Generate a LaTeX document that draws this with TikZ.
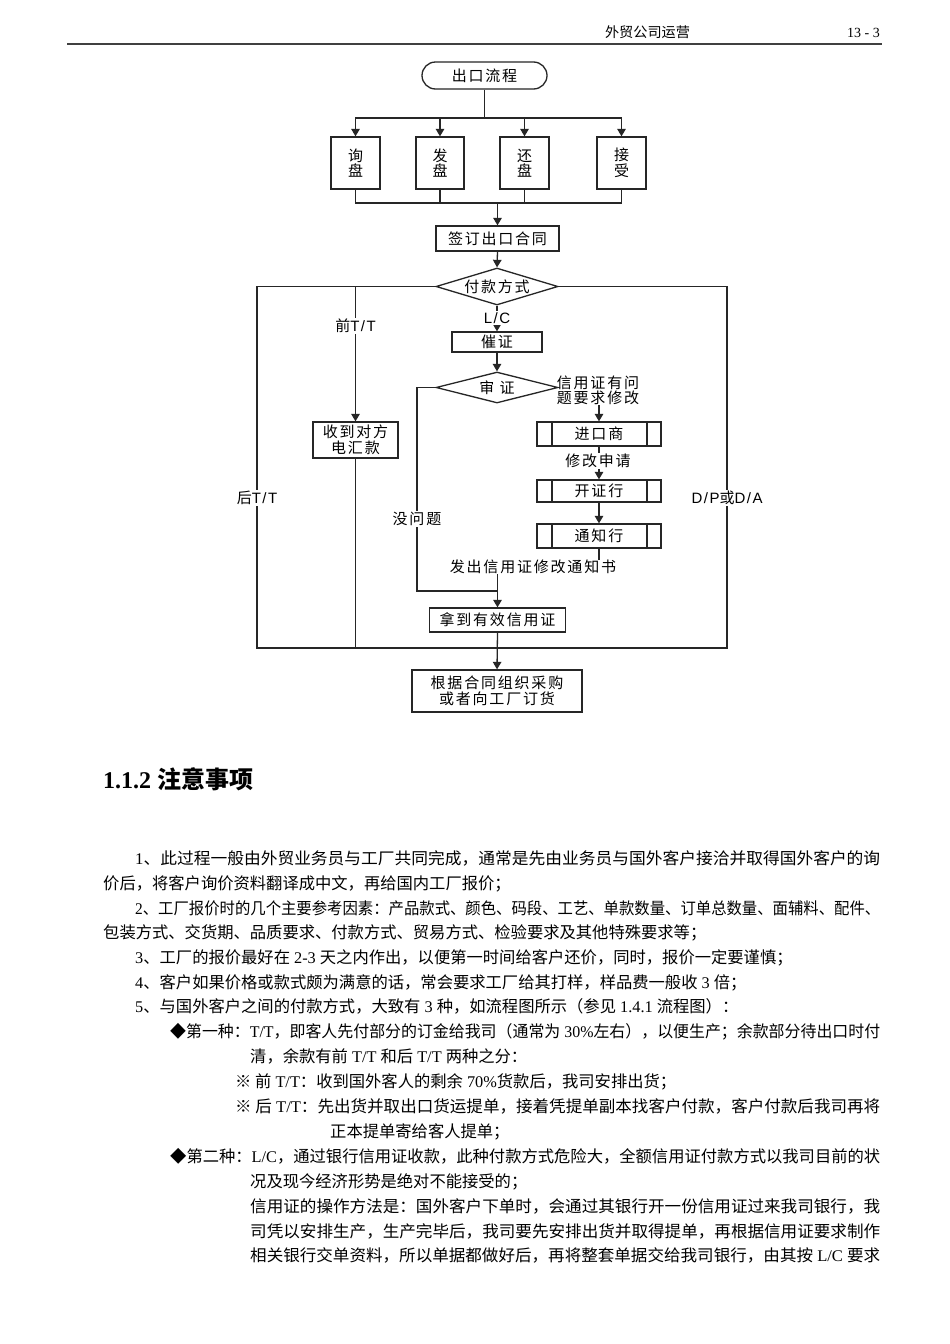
\documentclass[tikz,border=0pt]{standalone}
\usepackage{fontspec}
\usepackage{graphicx}
\setmainfont{Noto Sans CJK SC}
\newfontfamily\serifl{Liberation Serif}
\newfontfamily\sansl[LetterSpace=10]{Liberation Sans}
\newfontfamily\flowfont[LetterSpace=12]{Noto Sans CJK SC}
\usetikzlibrary{arrows.meta,shapes.geometric,shapes.misc}
\newcommand\trn[1]{{\serifl #1}}
\newcommand\arn[1]{{\sansl #1}}
\newcommand\jline[2]{\resizebox{#1}{\height}{#2}}
\tikzset{
  ln/.style={line width=1.3pt, draw=black!85},
  arr/.style={-{Triangle[length=7.5pt,width=8.5pt]}},
  ftx/.style={inner sep=0pt, font=\flowfont\fontsize{15}{15.5}\selectfont, align=center},
  box/.style={ftx, draw=black!85, line width=1.3pt},
  term/.style={box, rounded rectangle},
  dia/.style={draw=black!85, line width=1.3pt, diamond, inner sep=0pt, minimum width=122pt},
  lbl/.style={ftx, fill=white, inner sep=1.5pt},
  pp/.style={path picture={
     \draw[line width=1.3pt, draw=black!85] ([xshift=15pt]path picture bounding box.north west) -- ([xshift=15pt]path picture bounding box.south west);
     \draw[line width=1.3pt, draw=black!85] ([xshift=-14pt]path picture bounding box.north east) -- ([xshift=-14pt]path picture bounding box.south east);}},
  body/.style={anchor=base west, inner sep=0pt, font=\fontsize{16.3}{20}\selectfont},
}
\begin{document}
\begin{tikzpicture}[x=1pt,y=-1pt]
\fill[white] (0,0) rectangle (950,1344);
\useasboundingbox (0,0) rectangle (950,1344);

% header
\node[anchor=base, inner sep=0pt, font=\fontsize{14}{16}\selectfont] (hdr) at (647.5,37) {\resizebox{85pt}{\height}{外贸公司运营}};
\node[anchor=base east, inner sep=0pt, font=\serifl\fontsize{14}{16}\selectfont] (pg) at (880,37) {13 - 3};
\coordinate (ruleL) at (67,43.5);
\coordinate (ruleR) at (882,43.5);
\draw[line width=2pt, black!75] (ruleL) -- (ruleR);

% flowchart nodes
\node[term, minimum width=125pt, minimum height=27pt] (start) at (484.5,75.5) {出口流程};
\node[box, minimum width=49pt, minimum height=52pt] (q1) at (355.5,163) {询\\盘};
\node[box, minimum width=48pt, minimum height=52pt] (q2) at (440,163) {发\\盘};
\node[box, minimum width=49pt, minimum height=52pt] (q3) at (524.5,163) {还\\盘};
\node[box, minimum width=49pt, minimum height=52pt] (q4) at (621.5,163) {接\\受};
\node[box, minimum width=123pt, minimum height=25pt] (sign) at (497.5,238.5) {签订出口合同};
\node[dia, minimum height=37pt] (pay) at (497,286.5) {};
\node[ftx] (payt) at (pay) {付款方式};
\node[box, minimum width=85pt, minimum height=36pt] (sd) at (355.5,440) {收到对方\\电汇款};
\node[box, minimum width=90pt, minimum height=20pt] (cui) at (497,342) {催证};
\node[dia, minimum height=31pt] (shen) at (497,387.5) {};
\node[ftx] (shent) at (shen) {审\ 证};
\node[ftx] (wt) at (598,390.5) {信用证有问\\题要求修改};
\node[box, pp, minimum width=124pt, minimum height=24pt] (jk) at (599,434) {进口商};
\node[box, pp, minimum width=124pt, minimum height=22pt] (kz) at (599,491) {开证行};
\node[box, pp, minimum width=124pt, minimum height=24pt] (tz) at (599,536) {通知行};
\node[ftx] (fcl) at (533,567) {发出信用证修改通知书};
\node[box, minimum width=136pt, minimum height=24pt] (nd) at (497.5,620) {拿到有效信用证};
\node[box, minimum width=170pt, minimum height=42pt, font=\flowfont\fontsize{15}{16.5}\selectfont] (gj) at (497,691) {根据合同组织采购\\或者向工厂订货};

% coordinates
\coordinate (busT) at (484.5,118);
\coordinate (busB) at (497.5,203);
\coordinate (cL) at (257,286.5);
\coordinate (cLb) at (257,648);
\coordinate (cRb) at (727,648);
\coordinate (cR) at (727,286.5);
\coordinate (tBr) at (355.5,286.5);
\coordinate (mL1) at (417,387.5);
\coordinate (mL2) at (417,591);
\coordinate (mJ) at (497.5,591);

% connectors
\draw[ln] (start.south) -- (busT);
\foreach \n in {q1,q2,q3,q4} \draw[ln,arr] (busT) -| (\n.north);
\foreach \n in {q1,q2,q3,q4} \draw[ln] (\n.south) |- (busB);
\draw[ln,arr] (busB) -- (sign.north);
\draw[ln,arr] (sign.south) -- (pay.north);
\draw[ln] (pay.west) -- (cL) -- (cLb) -- (cRb) -- (cR) -- (pay.east);
\draw[ln,arr] (tBr) -- (sd.north);
\draw[ln] (sd.south) -- (sd.south |- cLb);
\draw[ln,arr] (pay.south) -- (cui.north);
\draw[ln,arr] (cui.south) -- (shen.north);
\draw[ln] (shen.west) -- (mL1) -- (mL2) -- (mJ);
\draw[ln,arr] (jk.north |- wt.south) -- (jk.north);
\draw[ln,arr] (jk.south) -- (kz.north);
\draw[ln,arr] (kz.south) -- (tz.north);
\draw[ln] (tz.south) -- (tz.south |- fcl.north);
\draw[ln,arr] (fcl.south -| nd.north) -- (nd.north);
\draw[ln,arr] (nd.south) -- (gj.north);

% labels on lines
\node[lbl] (qtt) at (355.5,326) {前\arn{T/T}};
\node[lbl] (htt) at (257,498) {后\arn{T/T}};
\node[lbl] (dpda) at (727,498) {\arn{D/P}或\arn{D/A}};
\node[lbl] (lc) at (497,318) {\arn{L/C}};
\node[lbl] (mwt) at (417,519) {没问题};
\node[lbl] (xg) at (598,461) {修改申请};

% heading
\node[anchor=base west, inner sep=0pt, font=\fontsize{24}{28}\selectfont\bfseries] (hd) at (103,788) {\trn{1.1.2 }注意事项};

% body
\node[body] (l1) at (135,864) {\jline{745pt}{\trn{1}、此过程一般由外贸业务员与工厂共同完成，通常是先由业务员与国外客户接洽并取得国外客户的询}};
\node[body] (l2) at (103,889) {价后，将客户询价资料翻译成中文，再给国内工厂报价；};
\node[body] (l3) at (135,914) {\jline{745pt}{\trn{2}、工厂报价时的几个主要参考因素：产品款式、颜色、码段、工艺、单款数量、订单总数量、面辅料、配件、}};
\node[body] (l4) at (103,938) {包装方式、交货期、品质要求、付款方式、贸易方式、检验要求及其他特殊要求等；};
\node[body] (l5) at (135,963) {\trn{3}、工厂的报价最好在\trn{~2-3~}天之内作出，以便第一时间给客户还价，同时，报价一定要谨慎；};
\node[body] (l6) at (135,988) {\trn{4}、客户如果价格或款式颇为满意的话，常会要求工厂给其打样，样品费一般收\trn{~3~}倍；};
\node[body] (l7) at (135,1012) {\trn{5}、与国外客户之间的付款方式，大致有\trn{~3~}种，如流程图所示（参见\trn{~1.4.1~}流程图）：};
\node[body] (l8) at (170,1037) {\jline{710pt}{◆第一种：\trn{T/T}，即客人先付部分的订金给我司（通常为\trn{~30\%}左右），以便生产；余款部分待出口时付}};
\node[body] (l9) at (250,1062) {清，余款有前\trn{~T/T~}和后\trn{~T/T~}两种之分：};
\node[body] (l10) at (235,1087) {※ 前\trn{~T/T}：收到国外客人的剩余\trn{~70\%}货款后，我司安排出货；};
\node[body] (l11) at (235,1112) {\jline{645pt}{※ 后\trn{~T/T}：先出货并取出口货运提单，接着凭提单副本找客户付款，客户付款后我司再将}};
\node[body] (l12) at (330,1137) {正本提单寄给客人提单；};
\node[body] (l13) at (170,1162) {\jline{710pt}{◆第二种：\trn{L/C}，通过银行信用证收款，此种付款方式危险大，全额信用证付款方式以我司目前的状}};
\node[body] (l14) at (250,1187) {况及现今经济形势是绝对不能接受的；};
\node[body] (l15) at (250,1212) {\jline{630pt}{信用证的操作方法是：国外客户下单时，会通过其银行开一份信用证过来我司银行，我}};
\node[body] (l16) at (250,1237) {\jline{630pt}{司凭以安排生产，生产完毕后，我司要先安排出货并取得提单，再根据信用证要求制作}};
\node[body] (l17) at (250,1261) {\jline{630pt}{相关银行交单资料，所以单据都做好后，再将整套单据交给我司银行，由其按\trn{~L/C~}要求}};
\end{tikzpicture}
\end{document}
